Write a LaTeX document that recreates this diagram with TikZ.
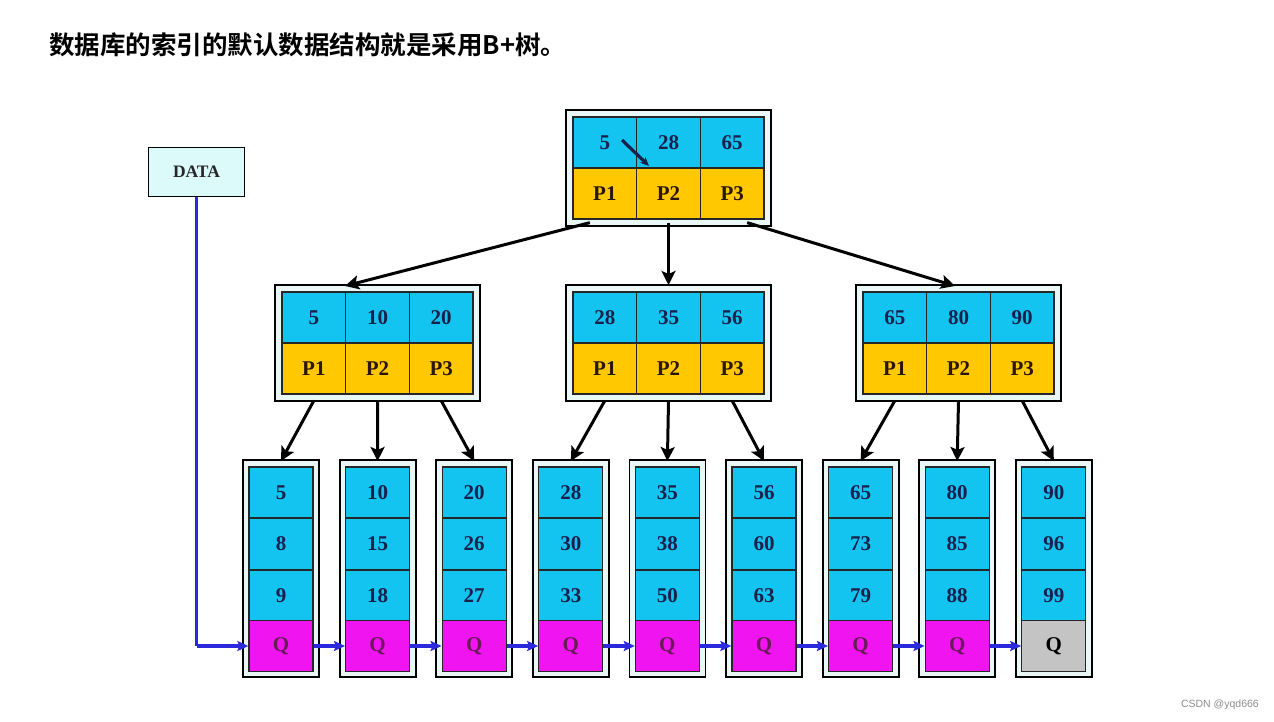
\documentclass[tikz,border=0pt]{standalone}
\usepackage{fontspec}
\setmainfont{Liberation Serif}
\newfontfamily\cjk{Noto Sans CJK SC}[BoldFont={Noto Sans CJK SC Bold}]
\newfontfamily\wmfont{Liberation Sans}
\usetikzlibrary{arrows.meta,calc}
\definecolor{cellcyan}{HTML}{14C4F0}
\definecolor{cellgold}{HTML}{FFC800}
\definecolor{cellmag}{HTML}{F014F0}
\definecolor{cellgray}{HTML}{C4C4C4}
\definecolor{boxfill}{HTML}{EAF7F7}
\definecolor{datafill}{HTML}{DDFAFA}
\definecolor{numcol}{HTML}{16204A}
\definecolor{pcol}{HTML}{2A1500}
\definecolor{qcol}{HTML}{6A1A58}
\definecolor{chainblue}{HTML}{2A2ADC}
\tikzset{
  cell/.style={draw=black!85, line width=1.3pt, minimum width=63.67pt, minimum height=51pt, inner sep=0pt,
     font=\fontsize{21}{21}\selectfont\bfseries, text=numcol},
  cyancell/.style={cell, fill=cellcyan},
  goldcell/.style={cell, fill=cellgold, text=pcol},
  magcell/.style={cell, fill=cellmag, text=qcol},
  graycell/.style={cell, fill=cellgray, text=black},
  outerbox/.style={draw=black, line width=1.8pt, fill=boxfill},
  treearrow/.style={line width=3pt, black, -{Stealth[length=14pt,width=14pt,inset=3pt]}},
  chain/.style={line width=3.5pt, chainblue, -{Stealth[length=11pt,width=10pt,inset=2pt]}},
}
% internal node: name, cx, inner top, a, b, c
\newcommand{\intnode}[6]{%
  \draw[outerbox] (#2-102.5,#3-7) rectangle (#2+102.5,#3+109);
  \node[cyancell] (#1k1) at (#2-63.67,#3+25.5) {#4};
  \node[cyancell] (#1k2) at (#2,#3+25.5) {#5};
  \node[cyancell] (#1k3) at (#2+63.67,#3+25.5) {#6};
  \node[goldcell] (#1p1) at (#2-63.67,#3+76.5) {P1};
  \node[goldcell] (#1p2) at (#2,#3+76.5) {P2};
  \node[goldcell] (#1p3) at (#2+63.67,#3+76.5) {P3};
}
% leaf: name, cx, a, b, c, qstyle
\newcommand{\leafnode}[6]{%
  \draw[outerbox] (#2-38,460) rectangle (#2+38,677);
  \coordinate (#1top) at (#2,460);
  \node[cyancell, minimum width=64pt] (#1a) at (#2,492.5) {#3};
  \node[cyancell, minimum width=64pt] (#1b) at (#2,544) {#4};
  \node[cyancell, minimum width=64pt] (#1c) at (#2,595.5) {#5};
  \node[#6, minimum width=64pt] (#1q) at (#2,646) {Q};
}
\begin{document}
\begin{tikzpicture}[x=1pt,y=-1pt]
\useasboundingbox (0,0) rectangle (1274,722);
\fill[white] (0,0) rectangle (1274,722);
\node[anchor=west, inner sep=0pt, font=\cjk\bfseries\fontsize{25.5}{26}\selectfont] (title) at (49,45) {数据库的索引的默认数据结构就是采用B+树。};
\node[anchor=east, inner sep=0pt, text=black!45, font=\wmfont\fontsize{10.5}{11}\selectfont] (wm) at (1259,705) {CSDN @yqd666};

% DATA box
\node[draw=black, line width=1.8pt, fill=datafill, minimum width=96pt, minimum height=49pt, inner sep=0pt,
  font=\fontsize{17.5}{17.5}\selectfont\bfseries, text=black!85] (data) at (196.5,172) {DATA};

% internal nodes
\intnode{r}{668.5}{117}{5}{28}{65}
\intnode{a}{377.5}{292}{5}{10}{20}
\intnode{b}{668.5}{292}{28}{35}{56}
\intnode{c}{958.5}{292}{65}{80}{90}

% leaves
\leafnode{l1}{281}{5}{8}{9}{magcell}
\leafnode{l2}{377.6}{10}{15}{18}{magcell}
\leafnode{l3}{474.2}{20}{26}{27}{magcell}
\leafnode{l4}{570.8}{28}{30}{33}{magcell}
\leafnode{l5}{667.4}{35}{38}{50}{magcell}
\leafnode{l6}{764}{56}{60}{63}{magcell}
\leafnode{l7}{860.6}{65}{73}{79}{magcell}
\leafnode{l8}{957.2}{80}{85}{88}{magcell}
\leafnode{l9}{1053.8}{90}{96}{99}{graycell}

% small pointer inside root
\coordinate (ptrs) at (622,140);
\coordinate (ptre) at (649,166);
\draw[line width=3.2pt, numcol, -{Stealth[length=9pt,width=8pt]}] (ptrs) -- (ptre);

% root to middle
\coordinate (ra) at (345,286);
\coordinate (rc) at (955,286);
\coordinate (rb) at (668.5,285);
\draw[treearrow] ([xshift=-15pt,yshift=-3pt]rp1.south) -- (ra);
\draw[treearrow] ([yshift=-3pt]rp2.south) -- (rb);
\draw[treearrow] ([xshift=15pt,yshift=-3pt]rp3.south) -- (rc);

% middle to leaves
\foreach \pp/\lf in {ap1/l1,ap2/l2,ap3/l3,bp1/l4,bp2/l5,bp3/l6,cp1/l7,cp2/l8,cp3/l9}{
  \draw[treearrow] ([yshift=-6pt]\pp.south) -- ([yshift=-1pt]\lf top);
}

% blue chain
\draw[line width=3.5pt, chainblue] (data.south) -- (data.south |- l1q.west);
\draw[chain] (data.south |- l1q.west) -- (l1q.west);
\foreach \i/\j in {1/2,2/3,3/4,4/5,5/6,6/7,7/8,8/9}{
  \draw[chain] (l\i q.east) -- (l\j q.west);
}
\end{tikzpicture}
\end{document}
